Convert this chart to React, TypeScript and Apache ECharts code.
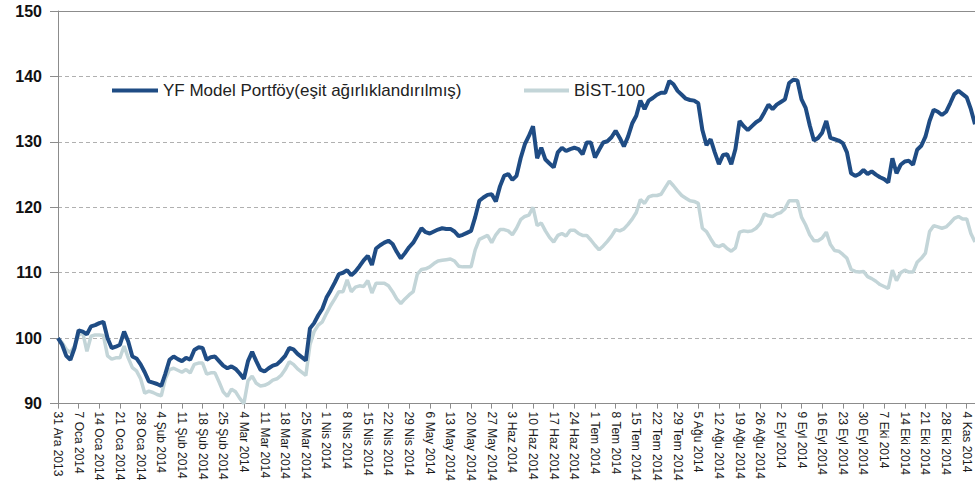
import { useEffect, useRef } from "react";
import * as echarts from "echarts";

const weekLabels: string[] = [
  "31 Ara 2013", "7 Oca 2014", "14 Oca 2014", "21 Oca 2014", "28 Oca 2014",
  "4 Şub 2014", "11 Şub 2014", "18 Şub 2014", "25 Şub 2014", "4 Mar 2014",
  "11 Mar 2014", "18 Mar 2014", "25 Mar 2014", "1 Nis 2014", "8 Nis 2014",
  "15 Nis 2014", "22 Nis 2014", "29 Nis 2014", "6 May 2014", "13 May 2014",
  "20 May 2014", "27 May 2014", "3 Haz 2014", "10 Haz 2014", "17 Haz 2014",
  "24 Haz 2014", "1 Tem 2014", "8 Tem 2014", "15 Tem 2014", "22 Tem 2014",
  "29 Tem 2014", "5 Ağu 2014", "12 Ağu 2014", "19 Ağu 2014", "26 Ağu 2014",
  "2 Eyl 2014", "9 Eyl 2014", "16 Eyl 2014", "23 Eyl 2014", "30 Eyl 2014",
  "7 Eki 2014", "14 Eki 2014", "21 Eki 2014", "28 Eki 2014", "4 Kas 2014",
];

const seriesNames = ["YF Model Portföy(eşit ağırlıklandırılmış)", "BİST-100"];

// daily values (business days), starting 31 Ara 2013
const yfModel: number[] = [
  100, 99, 97.3, 96.7, 98.5, 101.2, 101, 100.6, 101.8, 102,
  102.3, 102.5, 100, 98.5, 98.7, 99, 101, 99.5, 97.2, 96.9,
  96, 94.8, 93.4, 93.2, 93, 92.7, 94.6, 96.7, 97.2, 96.8,
  96.5, 97, 96.7, 98.2, 98.6, 98.5, 96.7, 97.1, 97.2, 96.5,
  95.8, 95.4, 95.7, 95.3, 94.6, 93.8, 96.5, 97.9, 96.5, 95.2,
  94.9, 95.4, 95.8, 96, 96.6, 97.3, 98.5, 98.3, 97.6, 97.1,
  96.6, 101.5, 102.3, 103.5, 104.5, 106.2, 107.3, 108.5, 109.8, 110,
  110.4, 109.6, 110.2, 111, 111.9, 112.6, 111.2, 113.7, 114.2, 114.6,
  114.9, 114.4, 113.2, 112.2, 113, 113.9, 114.6, 115.7, 116.8, 116.2,
  116, 116.3, 116.6, 116.8, 116.7, 116.7, 116.3, 115.6, 115.8, 116.1,
  116.4, 118.5, 121, 121.5, 121.9, 122, 120.9, 123.2, 124.8, 125.1,
  124.2, 124.8, 127.5, 129.6, 130.9, 132.4, 127.5, 129.1, 127.3, 126.7,
  126.1, 128.4, 129.1, 128.6, 128.9, 129.1, 128.9, 128.1, 129.9, 129.9,
  127.6, 128.8, 129.9, 130.1, 130.7, 131.7, 130.6, 129.3, 130.8, 132.8,
  134, 136.3, 135, 136.3, 136.7, 137.2, 137.5, 137.5, 139.3, 138.8,
  137.8, 137.2, 136.6, 136.4, 136.3, 135.9, 131.8, 129.5, 130.4, 128.4,
  126.6, 128, 128.1, 126.6, 128.9, 133.2, 132.4, 131.8, 132.4, 133,
  133.4, 134.5, 135.7, 135, 135.7, 136.1, 136.5, 139, 139.5, 139.4,
  136.5, 135.2, 132.5, 130.2, 130.6, 131.4, 133.2, 130.6, 130.4, 130.2,
  129.8, 128.4, 125.2, 124.8, 125.1, 125.7, 125.1, 125.5, 125, 124.6,
  124.3, 123.8, 127.5, 125.2, 126.5, 127, 127.1, 126.5, 128.8, 129.4,
  130.8, 133.2, 134.9, 134.6, 134.1, 134.6, 135.9, 137.3, 137.8, 137.3,
  136.8, 135, 132.7,
];

const bist100: number[] = [
  100, 99.3, 98.3, 97.8, 98.8, 100.5, 100.8, 98, 100.3, 100.5,
  100.5, 100.4, 97.3, 96.8, 97, 97, 98.8, 97, 95.5, 95,
  93.8, 91.6, 91.9, 91.7, 91.4, 91.2, 93.8, 95.2, 95.4, 95.1,
  94.8, 95.2, 94.7, 96, 96.2, 96.2, 94.5, 94.7, 94.7, 93.3,
  91.8, 91.1, 92.2, 91.8, 90.8, 90, 93.5, 94.2, 93.1, 92.7,
  92.8, 93.1, 93.6, 93.8, 94.3, 95.2, 96.4, 96, 95.3, 94.8,
  94.3, 99, 101, 102, 102.5, 103.8, 105, 106, 107.1, 107.1,
  108.9, 107.1, 107.8, 108, 107.9, 108.8, 106.9, 108.4, 108.4, 108.4,
  108, 107.1, 106, 105.3, 106, 106.6, 107.1, 109.8, 110.5, 110.6,
  110.9, 111.4, 111.8, 111.9, 112, 112.1, 111.8, 111, 110.9, 110.9,
  110.9, 113.5, 115.1, 115.4, 115.7, 114.6, 115.8, 116.6, 116.6, 116.4,
  115.8, 116.8, 118.1, 118.6, 118.8, 120, 117.2, 117.6, 116.4, 115.4,
  114.7, 115.7, 116, 115.6, 116.5, 116.5, 116, 115.7, 115.7, 115,
  114.2, 113.5, 114.1, 114.8, 115.6, 116.6, 116.4, 116.7, 117.4, 118.2,
  119.2, 121.2, 120.6, 121.6, 121.8, 121.8, 122, 123, 124, 123.3,
  122.5, 121.8, 121.4, 121, 120.9, 120.6, 116.8, 116.3, 115.2, 114.2,
  114, 114.3, 113.7, 113.3, 113.8, 116.2, 116.4, 116.3, 116.4, 116.8,
  117.5, 119, 118.7, 118.6, 119, 119.2, 119.8, 121, 121, 121,
  118.5, 117.3, 115.8, 114.9, 114.9, 115.3, 116.2, 114.3, 113.4, 113.3,
  112.8, 112.2, 110.5, 110.2, 110.1, 110.2, 109.4, 109.1, 108.7, 108.2,
  107.9, 107.6, 110.4, 108.8, 110, 110.4, 110.1, 110.1, 111.6, 112.2,
  113, 116.3, 117.2, 117, 116.8, 117, 117.6, 118.3, 118.6, 118.2,
  118.2, 116, 114.7,
];

const yMin = 90;
const yMax = 150;
const yInterval = 10;
const daysPerWeek = 5;

const FONT = "'Liberation Sans', Arial, sans-serif";
const DARK = "#1F4C84";
const LIGHT = "#C3D5D8";
const AXIS = "#8C8C8C";

export default function App() {
  const ref = useRef<HTMLDivElement>(null);

  useEffect(() => {
    if (!ref.current) return;
    const chart = echarts.init(ref.current, null, { renderer: "svg" });
    const categories = yfModel.map((_, i) =>
      i % daysPerWeek === 0
        ? weekLabels[i / daysPerWeek]
        : `${weekLabels[Math.floor(i / daysPerWeek)]} +${i % daysPerWeek}`
    );

    chart.setOption({
      animation: false,
      backgroundColor: "#ffffff",
      grid: { left: 58, right: 0, top: 11, bottom: 78, containLabel: false },
      legend: [
        {
          data: [seriesNames[0]],
          left: 107,
          top: 77,
          icon: "rect",
          itemWidth: 46,
          itemHeight: 4,
          itemGap: 0,
          textStyle: { fontFamily: FONT, fontSize: 17, color: "#222" },
        },
        {
          data: [seriesNames[1]],
          left: 519,
          top: 77,
          icon: "rect",
          itemWidth: 45,
          itemHeight: 4,
          textStyle: { fontFamily: FONT, fontSize: 17, color: "#222" },
        },
      ],
      xAxis: [
        {
          type: "category",
          data: categories,
          boundaryGap: false,
          axisLine: { show: true, lineStyle: { color: AXIS, width: 1 } },
          axisTick: { show: true, interval: daysPerWeek - 1, length: 5, lineStyle: { color: AXIS } },
          axisLabel: {
            interval: daysPerWeek - 1,
            rotate: -90,
            margin: 8,
            fontFamily: FONT,
            fontSize: 12,
            color: "#1a1a1a",
          },
          splitLine: { show: false },
        },
        {
          type: "category",
          data: categories,
          position: "top",
          boundaryGap: false,
          axisLine: { show: true, lineStyle: { color: AXIS, width: 1 } },
          axisTick: { show: false },
          axisLabel: { show: false },
          splitLine: { show: false },
        },
      ],
      yAxis: {
        type: "value",
        min: yMin,
        max: yMax,
        interval: yInterval,
        axisLine: { show: true, lineStyle: { color: AXIS, width: 1 } },
        axisTick: { show: true, length: 8, lineStyle: { color: AXIS } },
        axisLabel: {
          margin: 16,
          fontFamily: FONT,
          fontSize: 16,
          fontWeight: "bold",
          color: "#111",
        },
        splitLine: { show: true, lineStyle: { color: "#B0B0B0", type: [4, 3], width: 1 } },
      },
      series: [
        {
          name: seriesNames[1],
          type: "line",
          data: bist100,
          showSymbol: false,
          symbol: "none",
          lineStyle: { color: LIGHT, width: 3.5 },
          itemStyle: { color: LIGHT },
          z: 2,
        },
        {
          name: seriesNames[0],
          type: "line",
          data: yfModel,
          showSymbol: false,
          symbol: "none",
          lineStyle: { color: DARK, width: 4 },
          itemStyle: { color: DARK },
          z: 3,
        },
      ],
    });

    return () => chart.dispose();
  }, []);

  return (
    <div
      ref={ref}
      style={{ position: "absolute", left: 0, top: 0, width: 975, height: 484 }}
    />
  );
}
